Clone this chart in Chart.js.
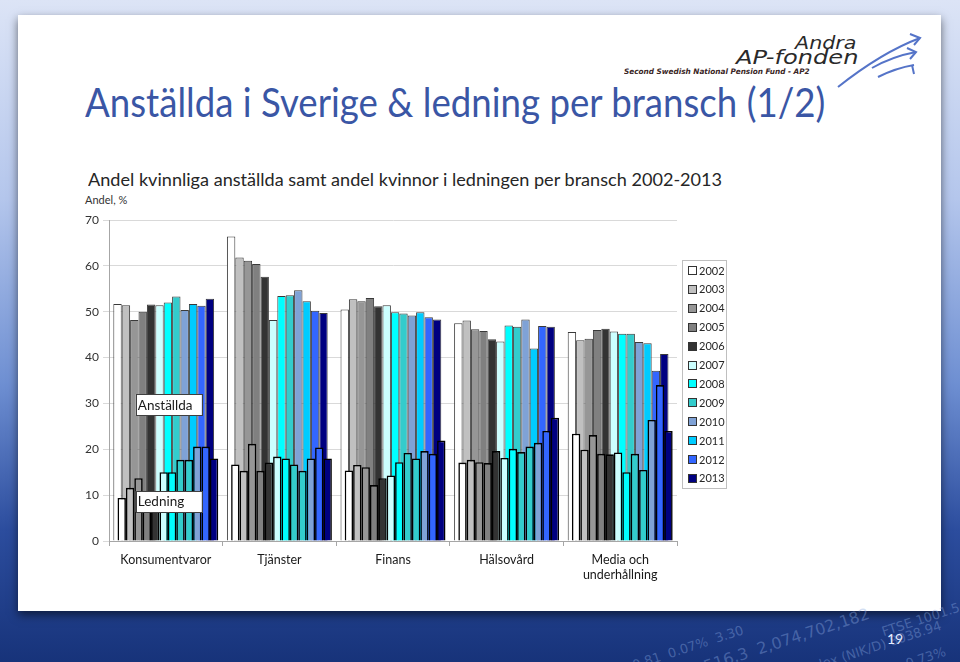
<!DOCTYPE html>
<html>
<head>
<meta charset="utf-8">
<script src="https://cdn.jsdelivr.net/npm/chart.js@4/dist/chart.umd.min.js"></script>
<style>
html, body { margin: 0; padding: 0; width: 960px; height: 662px; overflow: hidden; }
body {
    position: relative;
    background: linear-gradient(180deg, #dce4f6 0%, #b4c6ec 30%, #6e8fd2 58%, #2c4d9e 80%, #17337a 100%);
    font-family: Lato, "Open Sans", sans-serif;
}
#card { position: absolute; left: 18px; top: 15px; width: 923px; height: 596px; background: #fff; box-shadow: 0 4px 9px rgba(0,0,0,0.55); }
.fit { position: absolute; white-space: nowrap; transform-origin: 0 0; }
#title { left: 85px; top: 77px; font-size: 41px; font-weight: 400; color: #3a56a5; }
#subtitle { left: 88px; top: 170px; font-size: 16.5px; color: #262626; }
#unit { position: absolute; left: 85px; top: 193px; font-size: 11px; color: #333; }
#logo1 { left: 795px; top: 33px; font: italic 17px "DejaVu Sans", sans-serif; color: #2a2a2a; }
#logo2 { left: 736px; top: 46px; font: italic 19px "DejaVu Sans", sans-serif; color: #2a2a2a; }
#logo3 { left: 624px; top: 67px; font: italic bold 7.5px "DejaVu Sans", sans-serif; color: #3a2626; }
#swoosh { position: absolute; left: 830px; top: 30px; }
#page { position: absolute; left: 887px; top: 630px; font-size: 14px; color: #e6ecff; }
.deco { position: absolute; color: rgba(140,170,225,0.4); font: 13px "DejaVu Sans", sans-serif; transform: rotate(-18deg); white-space: nowrap; }
#chart { position: absolute; left: 0; top: 0; }
</style>
</head>
<body>
<div id="card"></div>
<div class="deco" style="left:630px;top:640px;">0.81&nbsp;&nbsp;0.07%&nbsp;&nbsp;3.30</div>
<div class="deco" style="left:690px;top:632px;font-size:16px;">1516.3&nbsp;&nbsp;2,074,702,182</div>
<div class="deco" style="left:800px;top:640px;">Index (NIK/D)&nbsp;8038.94</div>
<div class="deco" style="left:880px;top:612px;">FTSE 1001.5</div>
<div class="deco" style="left:905px;top:650px;">0.73%</div>
<div id="page">19</div>

<div id="logo1" class="fit">Andra</div>
<div id="logo2" class="fit">AP-fonden</div>
<div id="logo3" class="fit">Second Swedish National Pension Fund - AP2</div>
<svg id="swoosh" width="95" height="62" viewBox="0 0 95 62">
  <path d="M8 57 C32 38 58 20 90 8" stroke="#5574c8" stroke-width="2" fill="none"/>
  <path d="M80 4 L90 8 L84 15" stroke="#5574c8" stroke-width="2" fill="none"/>
  <path d="M42 38 C56 30 70 25 86 22" stroke="#5574c8" stroke-width="2" fill="none"/>
  <path d="M77 18 L86 22 L80 29" stroke="#5574c8" stroke-width="2" fill="none"/>
  <path d="M48 47 C60 41 72 37 84 35" stroke="#5574c8" stroke-width="2" fill="none"/>
  <path d="M82 35 L84 44" stroke="#5574c8" stroke-width="2" fill="none"/>
</svg>

<div id="title" class="fit">Anställda i Sverige &amp; ledning per bransch (1/2)</div>
<div id="subtitle" class="fit">Andel kvinnliga anställda samt andel kvinnor i ledningen per bransch 2002-2013</div>
<div id="unit">Andel, %</div>

<canvas id="chart" width="960" height="662"></canvas>

<script>
var categories = ['Konsumentvaror', 'Tjänster', 'Finans', 'Hälsovård', ['Media och', 'underhållning']];
var years = ['2002', '2003', '2004', '2005', '2006', '2007', '2008', '2009', '2010', '2011', '2012', '2013'];
var yTicks = [0, 10, 20, 30, 40, 50, 60, 70];

// Andel kvinnliga anställda, per bransch, 2002..2013
var anstKonsumentvaror = [51.7, 51.4, 48.2, 50.0, 51.6, 51.4, 52.0, 53.3, 50.4, 51.7, 51.3, 52.8];
var anstTjanster       = [66.4, 61.8, 61.1, 60.4, 57.6, 48.2, 53.4, 53.6, 54.7, 52.3, 50.2, 49.7];
var anstFinans         = [50.5, 52.7, 52.3, 53.0, 51.2, 51.4, 49.9, 49.6, 49.2, 49.9, 48.8, 48.3];
var anstHalsovard      = [47.5, 48.1, 46.2, 45.8, 44.0, 43.5, 47.0, 46.7, 48.3, 42.0, 46.9, 46.7];
var anstMedia          = [45.6, 43.8, 44.1, 46.0, 46.3, 45.7, 45.2, 45.2, 43.4, 43.1, 37.1, 40.8];

// Andel kvinnor i ledningen, per bransch, 2002..2013
var ledKonsumentvaror = [9.4, 11.6, 13.7, 10.2, 10.6, 15.0, 15.0, 17.7, 17.7, 20.6, 20.6, 18.0];
var ledTjanster       = [16.7, 15.3, 21.2, 15.3, 17.1, 18.4, 18.0, 16.7, 15.3, 18.0, 20.4, 18.0];
var ledFinans         = [15.4, 16.6, 16.1, 12.2, 13.7, 14.3, 17.2, 19.2, 18.0, 19.6, 19.0, 21.9];
var ledHalsovard      = [17.1, 17.7, 17.2, 17.0, 19.6, 18.1, 20.1, 19.4, 20.6, 21.4, 24.0, 26.9];
var ledMedia          = [23.4, 19.9, 23.1, 19.0, 18.9, 19.3, 15.0, 19.0, 15.5, 26.4, 34.0, 24.0];

var anstColors = ['#ffffff', '#c0c0c0', '#969696', '#808080', '#333333', '#ccffff', '#00ffff', '#33cccc', '#7fa2d6', '#00ccff', '#3366ff', '#000080'];
var ledColors  = ['#ffffff', '#c0c0c0', '#969696', '#808080', '#333333', '#ccffff', '#00ffff', '#33cccc', '#33cccc', '#7fa2d6', '#3366ff', '#000080'];

// squeeze the slide texts to the width they take in the slide
function fitText(id, target) {
    var el = document.getElementById(id);
    el.style.transform = 'scaleX(' + (target / el.offsetWidth) + ')';
}
fitText('title', 740);
fitText('subtitle', 634);
fitText('logo1', 62);
fitText('logo2', 122);
fitText('logo3', 186);

var anstRows = [anstKonsumentvaror, anstTjanster, anstFinans, anstHalsovard, anstMedia];
var ledRows = [ledKonsumentvaror, ledTjanster, ledFinans, ledHalsovard, ledMedia];

// Slots go A, L, A, L ... (two half-width slots per year, bars are two slots wide),
// so every Ledning bar sits half a bar to the right of its Anställda bar.
// The empty holders come first so Ledning gets drawn on top of Anställda.
var datasets = [];
years.forEach(function (year, i) {
    datasets.push({
        label: '',
        data: [null, null, null, null, null],
        stack: 'slot' + (2 * i),
        order: 0
    });
    datasets.push({
        label: 'Ledning ' + year,
        data: ledRows.map(function (r) { return r[i]; }),
        backgroundColor: ledColors[i],
        borderColor: '#000000',
        borderWidth: 1.6,
        stack: 'slot' + (2 * i + 1),
        order: 0
    });
});
years.forEach(function (year, i) {
    datasets.push({
        label: year,
        data: anstRows.map(function (r) { return r[i]; }),
        backgroundColor: anstColors[i],
        borderColor: '#3a3a3a',
        borderWidth: 1,
        stack: 'slot' + (2 * i),
        order: 1
    });
});

var boxLabels = {
    id: 'boxLabels',
    afterDatasetsDraw: function (chart) {
        var ctx = chart.ctx;
        var xs = chart.scales.x, ys = chart.scales.y;
        var cx = xs.getPixelForValue(0) + 3;
        [['Anställda', 29.8], ['Ledning', 8.7]].forEach(function (lab) {
            var cy = ys.getPixelForValue(lab[1]);
            ctx.save();
            ctx.fillStyle = '#ffffff';
            ctx.strokeStyle = '#404040';
            ctx.lineWidth = 1;
            ctx.fillRect(cx - 33, cy - 10, 66, 21);
            ctx.strokeRect(Math.round(cx - 33) + 0.5, Math.round(cy - 10) + 0.5, 66, 21);
            ctx.fillStyle = '#1a1a1a';
            ctx.font = '13.5px Lato';
            ctx.textBaseline = 'middle';
            ctx.fillText(lab[0], cx - 31, cy + 1);
            ctx.restore();
        });
    },
    afterDraw: function (chart) {
        // year legend in a framed box right of the plot
        var ctx = chart.ctx;
        var left = chart.chartArea.right + 5;
        ctx.save();
        ctx.fillStyle = '#ffffff';
        ctx.fillRect(left, 260, 44, 228);
        ctx.strokeStyle = '#bfbfbf';
        ctx.lineWidth = 1;
        ctx.strokeRect(left + 0.5, 260.5, 44, 228);
        ctx.font = '11px Lato';
        ctx.textBaseline = 'middle';
        years.forEach(function (year, i) {
            var ty = 270 + i * 18.9;
            ctx.fillStyle = anstColors[i];
            ctx.fillRect(left + 6, Math.round(ty - 4), 8, 8);
            ctx.strokeStyle = '#333333';
            ctx.strokeRect(left + 6.5, Math.round(ty - 4) + 0.5, 8, 8);
            ctx.fillStyle = '#262626';
            ctx.fillText(year, left + 17, ty + 1);
        });
        ctx.restore();
    }
};

new Chart(document.getElementById('chart'), {
    type: 'bar',
    data: { labels: categories, datasets: datasets },
    options: {
        responsive: false,
        animation: false,
        datasets: { bar: { categoryPercentage: 0.887, barPercentage: 2 } },
        layout: { padding: { left: 79, right: 283, top: 220, bottom: 71 } },
        plugins: { legend: { display: false }, tooltip: { enabled: false } },
        scales: {
            x: {
                type: 'category',
                offset: true,
                grid: { offset: true, drawOnChartArea: false, color: '#a6a6a6', tickLength: 5 },
                border: { color: '#a6a6a6' },
                ticks: { font: { family: 'Lato', size: 12.5 }, color: '#1a1a1a', padding: 6, maxRotation: 0 },
                afterFit: function (s) { s.height = 50; }
            },
            y: {
                stacked: false,
                min: yTicks[0],
                max: yTicks[yTicks.length - 1],
                afterBuildTicks: function (s) { s.ticks = yTicks.map(function (v) { return { value: v }; }); },
                grid: { color: '#d9d9d9', tickLength: 6 },
                border: { color: '#a6a6a6' },
                ticks: { font: { family: 'Lato', size: 12 }, color: '#333333', padding: 4 },
                afterFit: function (s) { s.width = 30; }
            }
        }
    },
    plugins: [boxLabels]
});
</script>
</body>
</html>
